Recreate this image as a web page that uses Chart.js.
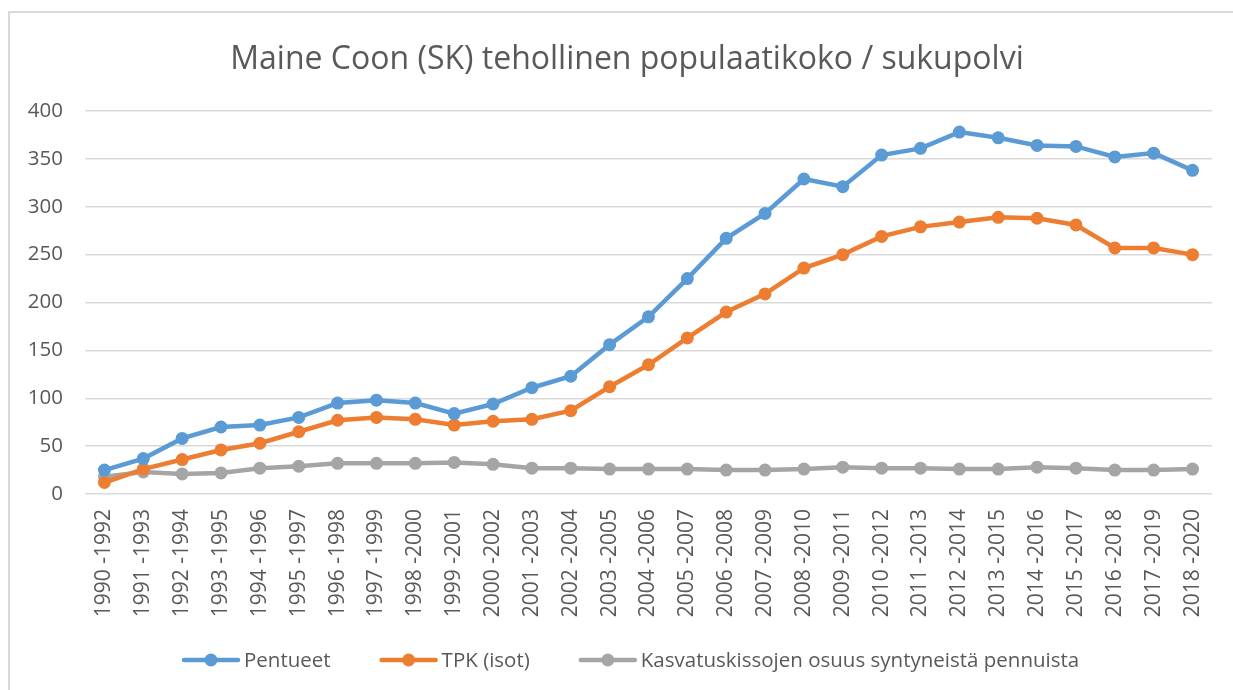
<!DOCTYPE html>
<html>
<head>
<meta charset="utf-8">
<script src="https://cdn.jsdelivr.net/npm/chart.js@4.4.1/dist/chart.umd.min.js"></script>
<style>
  html, body { margin: 0; padding: 0; background: #fff; }
  #wrap { position: relative; width: 1233px; height: 690px; }
</style>
</head>
<body>
<div id="wrap"><canvas id="grafico"></canvas></div>
<script>
var otsikko = 'Maine Coon (SK) tehollinen populaatikoko / sukupolvi';

var jaksot = ['1990 -1992', '1991 -1993', '1992 -1994', '1993 -1995', '1994 -1996', '1995 -1997',
    '1996 -1998', '1997 -1999', '1998 -2000', '1999 -2001', '2000 -2002', '2001 -2003',
    '2002 -2004', '2003 -2005', '2004 -2006', '2005 -2007', '2006 -2008', '2007 -2009',
    '2008 -2010', '2009 -2011', '2010 -2012', '2011 -2013', '2012 -2014', '2013 -2015',
    '2014 -2016', '2015 -2017', '2016 -2018', '2017 -2019', '2018 -2020'];

var pentueet = [25, 37, 58, 70, 72, 80, 95, 98, 95, 84, 94, 111, 123, 156, 185, 225, 267, 293, 329,
    321, 354, 361, 378, 372, 364, 363, 352, 356, 338];

var tpk = [12, 26, 36, 46, 53, 65, 77, 80, 78, 72, 76, 78, 87, 112, 135, 163, 190, 209, 236,
    250, 269, 279, 284, 289, 288, 281, 257, 257, 250];

var kasvatus = [18, 23, 21, 22, 27, 29, 32, 32, 32, 33, 31, 27, 27, 26, 26, 26, 25, 25, 26,
    28, 27, 27, 26, 26, 28, 27, 25, 25, 26];

var yTicks = [0, 50, 100, 150, 200, 250, 300, 350, 400];

var harmaa = '#595959';
var fontti = "'Open Sans', 'Noto Sans', sans-serif";

function sarja(nimi, arvot, vari) {
    return {
        label: nimi,
        data: arvot,
        borderColor: vari,
        backgroundColor: vari,
        borderWidth: 4.5,
        pointRadius: 6.5,
        pointHoverRadius: 6.5,
        pointBorderWidth: 0,
        tension: 0
    };
}

// kehys, otsikko ja selite piirretään itse
var taustaPlugin = {
    id: 'tausta',
    beforeDraw: function (chart) {
        var c = chart.ctx;
        c.save();
        c.fillStyle = '#fff';
        c.fillRect(0, 0, chart.width, chart.height);
        c.strokeStyle = '#D9D9D9';
        c.lineWidth = 2;
        c.beginPath();
        c.moveTo(9, chart.height);
        c.lineTo(9, 12);
        c.lineTo(chart.width, 12);
        c.stroke();
        c.fillStyle = harmaa;
        c.font = '32px ' + fontti;
        c.textAlign = 'center';
        c.textBaseline = 'alphabetic';
        c.fillText(otsikko, 627, 69);
        c.restore();
    }
};

var selitePlugin = {
    id: 'selite',
    afterDraw: function (chart) {
        var c = chart.ctx;
        var x = 184, y = 660;
        c.save();
        c.font = '20.5px ' + fontti;
        c.textBaseline = 'middle';
        chart.data.datasets.forEach(function (ds) {
            c.strokeStyle = ds.borderColor;
            c.lineWidth = 4.5;
            c.lineCap = 'round';
            c.beginPath();
            c.moveTo(x, y);
            c.lineTo(x + 54, y);
            c.stroke();
            c.fillStyle = ds.borderColor;
            c.beginPath();
            c.arc(x + 27, y, 6.5, 0, Math.PI * 2);
            c.fill();
            c.fillStyle = harmaa;
            c.fillText(ds.label, x + 60, y + 1);
            x += 60 + c.measureText(ds.label).width + 51;
        });
        c.restore();
    }
};

const ctx = document.getElementById('grafico');
var myChart = new Chart(ctx, {
    type: 'line',
    data: {
        labels: jaksot,
        datasets: [
            sarja('Pentueet', pentueet, '#5B9BD5'),
            sarja('TPK (isot)', tpk, '#ED7D31'),
            sarja('Kasvatuskissojen osuus syntyneistä pennuista', kasvatus, '#A5A5A5')
        ]
    },
    options: {
        responsive: true,
        maintainAspectRatio: false,
        animation: false,
        layout: { padding: { left: 10, right: 16, top: 111, bottom: 0 } },
        plugins: {
            legend: { display: false },
            tooltip: { enabled: false },
            title: { display: false }
        },
        scales: {
            x: {
                offset: true,
                grid: { display: false, drawTicks: false },
                border: { display: false },
                ticks: {
                    color: harmaa,
                    font: { family: fontti, size: 21 },
                    minRotation: 90,
                    maxRotation: 90,
                    autoSkip: false,
                    padding: 15
                },
                afterFit: function (scale) { scale.height = 196; }
            },
            y: {
                min: 0,
                max: 400,
                afterBuildTicks: function (scale) {
                    scale.ticks = yTicks.map(function (v) { return { value: v }; });
                },
                grid: { color: '#D9D9D9', lineWidth: 1.5, drawTicks: false },
                border: { display: false },
                ticks: {
                    color: harmaa,
                    font: { family: fontti, size: 20.5 },
                    padding: 22
                },
                afterFit: function (scale) { scale.width = 75; }
            }
        }
    },
    plugins: [taustaPlugin, selitePlugin]
});
</script>
</body>
</html>
